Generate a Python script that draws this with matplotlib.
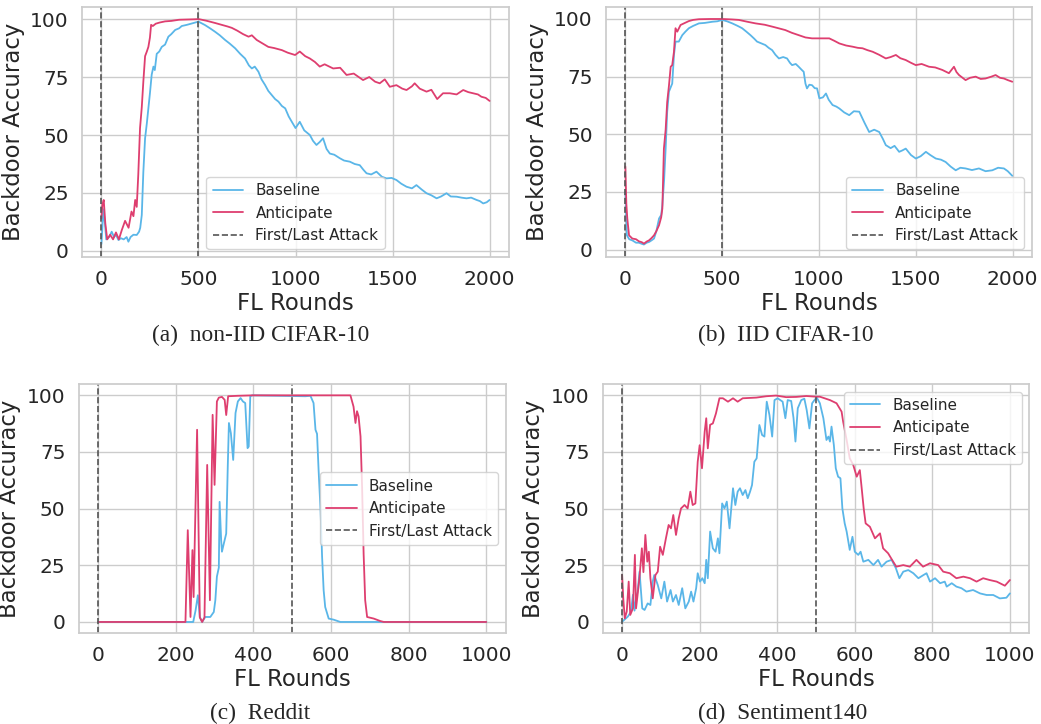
import matplotlib
matplotlib.use("Agg")
import matplotlib.pyplot as plt
import seaborn as sns

sns.set_theme(style="whitegrid")
plt.rcParams['font.family'] = ['DejaVu Sans']

# ---------------- data ----------------
# (a) non-IID CIFAR-10
a_base_x = [0, 5, 10, 18, 25, 40, 53, 65, 75, 88, 100, 115, 130, 139, 150, 165, 182, 194, 200, 208, 216, 225, 234,
            242, 250, 259, 268, 275, 285, 298, 311, 328, 345, 360, 380, 400, 414, 440, 466, 500, 534, 560, 586, 610,
            637, 660, 689, 715, 740, 760, 775, 790, 809, 825, 843, 860, 878, 895, 912, 930, 947, 965, 981, 1000,
            1022, 1045, 1074, 1090, 1108, 1125, 1142, 1160, 1177, 1200, 1228, 1250, 1280, 1305, 1331, 1350, 1366,
            1390, 1417, 1445, 1469, 1495, 1520, 1545, 1572, 1600, 1623, 1650, 1675, 1700, 1727, 1750, 1778, 1800,
            1830, 1855, 1881, 1905, 1933, 1950, 1967, 1985, 2000]
a_base_y = [3, 10, 18, 12, 5, 6, 8.3, 6, 7, 4.7, 5.5, 5, 6, 4, 6, 7, 6.9, 8.3, 10, 15.5, 34, 48.6, 55,
            61.5, 68, 76, 79.5, 78, 85, 86, 88, 89, 92.4, 93.5, 95.3, 96, 97, 97.5, 98.1, 98.9, 97.4, 96, 94.5, 93,
            91, 89.5, 87.4, 85, 83, 80, 78.7, 79.5, 77.3, 74, 71.6, 69, 67.2, 65.5, 64.4, 62.5, 61.5, 58, 55.7, 53,
            55.7, 52, 50, 47.5, 45.7, 47, 48.6, 44, 42, 41.5, 40, 39, 38.5, 37.5, 37, 35, 33.5,
            33, 34.2, 32, 31.3, 31.5, 30.6, 29, 27.7, 27, 28.4, 26.5, 24.9, 24, 22.7, 23.5, 24.9, 23.5,
            23.4, 23, 22.7, 23, 22, 21.5, 20.5, 21, 22]
a_ant_x = [0, 5, 12, 20, 30, 45, 60, 75, 90, 105, 122, 140, 155, 165, 174, 182, 190, 199, 208, 216, 225, 234, 242,
           250, 256, 265, 280, 300, 328, 360, 400, 440, 480, 500, 540, 586, 620, 650, 672, 700, 730, 758, 775, 800,
           830, 860, 890, 930, 960, 998, 1022, 1050, 1074, 1100, 1125, 1150, 1194, 1230, 1263, 1300, 1348, 1380,
           1410, 1434, 1460, 1486, 1520, 1550, 1572, 1600, 1614, 1640, 1675, 1700, 1730, 1760, 1795, 1830, 1864,
           1890, 1915, 1940, 1958, 1980, 2000]
a_ant_y = [14, 20, 22, 12, 5, 7, 5, 8, 5, 9, 13, 10, 17, 15, 22, 19, 33, 53, 62, 73, 84, 86, 88,
           92, 97.5, 97, 98, 98.5, 99, 99.2, 99.7, 99.8, 99.9, 100, 99.3, 98.3, 97.5, 96.8, 96.2, 95, 93.5, 92.4, 93, 91,
           89.5, 88, 87.5, 86.6, 85.5, 84.5, 86, 84, 83, 81.5, 79.5, 80.5, 78.7, 79, 75.9, 76.5, 73.7, 75,
           73, 72.3, 74, 70.8, 71.5, 70, 69.4, 71, 72.3, 70, 68.7, 69.5, 65.5, 68, 68, 67.5, 69.4,
           68.5, 68, 67.5, 66.5, 66, 64.7]

# (b) IID CIFAR-10
b_base_x = [0, 8, 20, 36, 55, 70, 85, 96, 110, 122, 135, 148, 160, 174, 185, 191, 200, 208, 216, 225, 242, 251, 259,
            276, 294, 310, 328, 350, 380, 410, 449, 475, 500, 525, 552, 580, 603, 625, 646, 665, 680, 700, 723, 740,
            758, 775, 793, 815, 835, 850, 861, 880, 895, 910, 921, 930, 938, 950, 964, 978, 990, 1002, 1020, 1036,
            1050, 1070, 1090, 1105, 1130, 1156, 1180, 1208, 1235, 1259, 1285, 1311, 1330, 1345, 1370, 1390, 1414,
            1430, 1448, 1475, 1500, 1525, 1552, 1575, 1603, 1630, 1654, 1680, 1706, 1730, 1757, 1790, 1826, 1860,
            1895, 1925, 1955, 1975, 1998]
b_base_y = [25, 6.2, 4.5, 4, 3, 3, 2.5, 2.2, 3, 3.3, 4, 4.8, 8, 13.5, 15, 19.2, 30, 43.8, 59.8, 68.5, 72, 84.4, 90.2,
            90.2, 93, 94.5, 96, 97, 98.1, 98.3, 98.8, 99, 99.6, 99, 98.1, 97, 96, 94.5, 93, 91.5, 90.2, 89.5, 88.7, 87.5,
            86.5, 84.5, 82.9, 83.5, 82.9, 81, 80, 80.5, 79.3, 78, 77.1, 72, 69.9, 71.5, 71.3, 70, 69.9, 65.6, 66, 67.7,
            65, 62.7, 62, 61.2, 59.5, 58.3, 60, 59.8, 55, 51, 52, 51, 48, 45.3, 44, 45, 42.4,
            43, 43.8, 41, 39.5, 40.5, 42.4, 41, 39.5, 39, 38, 36, 34.4, 35.5, 35.2, 34.5, 35.2, 34,
            34.4, 35.5, 35.2, 34, 32]
b_ant_x = [0, 5, 10, 19, 36, 55, 70, 85, 96, 110, 122, 135, 148, 160, 174, 185, 191, 199, 208, 216, 225, 234, 242,
           251, 259, 268, 285, 300, 328, 350, 380, 440, 500, 550, 586, 630, 672, 720, 758, 790, 826, 860, 895, 930,
           964, 1002, 1053, 1080, 1105, 1140, 1173, 1200, 1225, 1250, 1277, 1310, 1345, 1370, 1397, 1420, 1448,
           1475, 1500, 1530, 1568, 1600, 1637, 1671, 1697, 1710, 1723, 1757, 1780, 1809, 1835, 1860, 1890, 1912,
           1935, 1955, 1975, 1998]
b_ant_y = [36, 20, 13.5, 6.2, 4.8, 4.5, 3.6, 3.2, 2.6, 3.5, 4, 5, 6.2, 8, 10.6, 14, 17.8, 43.8, 52, 64, 71, 79.3, 80,
           85.8, 96, 94.5, 97.4, 98, 99.1, 99.6, 99.9, 100, 100, 99.8, 99.6, 98.8, 98.1, 97.5, 96.7, 96, 95.2, 94, 93, 92,
           91.6, 91.6, 91.6, 90.5, 89.4, 88.5, 88, 87.5, 87.3, 86.5, 85.8, 84.5, 82.9, 83.5, 84.4, 83, 82.2,
           81, 80, 80.5, 79.3, 79, 77.9, 76.5, 79.3, 77, 75.7, 73.5, 74.5, 75, 74, 74.2, 75, 75.7,
           74.5, 74.2, 73.5, 72.8]

# (c) Reddit
c_base_x = [0, 245, 251, 257, 262, 268, 276, 289, 298, 302, 306, 311, 313, 317, 319, 324, 330, 334, 337, 342, 348,
            354, 360, 367, 373, 379, 385, 388, 392, 397, 534, 547, 555, 560, 564, 568, 573, 577, 581, 585, 594, 607,
            624, 1000]
c_base_y = [0, 0, 5, 11.8, 2.2, 0, 2.2, 2.2, 4.4, 9.6, 20, 24, 53, 36, 31, 34.7, 39, 68.6, 87.8, 83.3, 71.5,
            92.2, 97.3, 98.8, 97.3, 96.6, 76.7, 77.4, 99.6, 100, 99.6, 99.8, 96.6, 84.8, 83, 67, 49.4, 28.8, 14, 6.6,
            1.5, 1, 0, 0]
c_ant_x = [0, 225, 231, 238, 243, 246, 255, 262, 268, 274, 281, 288, 295, 300, 306, 311, 319, 326, 330, 335, 360,
           400, 500, 600, 650, 658, 663, 667, 671, 676, 680, 684, 688, 693, 710, 727, 736, 1000]
c_ant_y = [0, 0, 40.5, 2.2, 31.7, 11, 84.8, 2, 0, 2, 69.3, 9.6, 91.4, 60.5, 97.3, 99, 99.3, 98, 91.3, 99.6, 99.8,
           100, 100, 100, 100, 95, 87.8, 93, 90.7, 81.9, 59.7, 30, 9.6, 2.2, 1.5, 0.4, 0, 0]

# (d) Sentiment140
d_base_x = [0, 6, 15, 23, 28, 32, 36, 40, 45, 52, 58, 66, 73, 79, 83, 92, 101, 109, 116, 125, 131, 139, 146, 155,
            163, 172, 178, 184, 191, 195, 201, 207, 213, 217, 221, 227, 234, 241, 247, 251, 258, 264, 270, 277, 286,
            292, 298, 304, 311, 318, 324, 330, 335, 341, 347, 354, 361, 367, 373, 380, 387, 393, 401, 414, 421, 427,
            436, 442, 447, 453, 462, 470, 476, 483, 490, 496, 502, 510, 519, 527, 532, 536, 540, 546, 551, 557, 563,
            568, 574, 579, 587, 594, 600, 609, 615, 622, 635, 648, 660, 669, 682, 695, 706, 715, 725, 738, 751, 764,
            777, 785, 794, 807, 820, 832, 837, 850, 862, 875, 888, 905, 923, 940, 957, 974, 991, 1000]
d_base_y = [0.1, 1, 2.4, 4.6, 12, 5, 10.4, 13.4, 22.2, 6, 5.3, 8.2, 7.5, 17.8, 20.7, 16.3, 10.4, 17.8, 9, 14.1, 9,
            11.9, 7.5, 14.9, 6, 9, 13.4, 9, 14.9, 21.5, 17.8, 19.3, 17.1, 27.4, 19.3, 39.9, 32.5, 31, 36.9, 30.3, 52.3,
            50.1, 53.1, 41.3, 59, 51.6, 57.5, 59, 56, 58.2, 54.6, 57.5, 60.4, 70.7, 72.2, 86.9, 82.5, 81.8, 97.2, 91.3,
            81.8, 97.9, 98.7, 97.2, 89.9, 97.9, 97.5, 90, 79.6, 94.3, 97.9, 98.5, 93.5, 85.4, 96.5, 97.9, 99, 96.5,
            89.9, 80.3, 81.8, 79.6, 86.2, 78.1, 67.8, 64.1, 63.4, 50.1, 43.5, 39.9, 31.8, 37.6, 31, 29.6, 31, 26.6,
            27.4, 25.1, 27.4, 24.4, 26.6, 27.4, 23.7, 19.3, 22.2, 22.9, 21.5, 19.3, 20.7, 21.5, 17.8, 19.3, 17.1, 17.8,
            15.6, 17.1, 15.6, 14.9, 13.4, 14.1, 12.6, 11.9, 11.9, 10.4, 10.7, 12.6]
d_ant_x = [0, 3, 7, 12, 17, 21, 28, 33, 36, 40, 45, 51, 55, 60, 65, 69, 73, 79, 86, 92, 98, 105, 113, 120, 126, 132,
           139, 146, 152, 161, 169, 176, 182, 189, 195, 200, 206, 213, 217, 221, 227, 234, 242, 251, 260, 273, 286,
           298, 311, 346, 372, 397, 423, 449, 475, 500, 510, 536, 553, 566, 570, 579, 587, 596, 605, 613, 617, 623,
           628, 639, 652, 665, 673, 686, 699, 707, 725, 742, 759, 776, 794, 815, 828, 845, 862, 880, 897, 914, 931,
           948, 966, 987, 1000]
d_ant_y = [20.7, 10.4, 1.6, 4.6, 17.8, 3.1, 6, 29.6, 6, 12, 20, 32.5, 22, 38.4, 26.6, 31, 19.3, 10.4, 20.7, 22.2,
           33.2, 29.6, 36.9, 42.8, 41.3, 47.2, 38.4, 45.7, 50.1, 51.6, 50.1, 57.5, 51.6, 52.3, 70.7, 78, 67.8, 84,
           89.9, 76.6, 87, 87.6, 92, 98.7, 98.7, 97.2, 98.7, 97.2, 98.7, 99, 99.6, 99.9, 99.2, 99.3, 99.7, 99.4, 99.4,
           97.9, 96.5, 92.8, 88.4, 80.3, 72.2, 69.3, 64.1, 67, 60.4, 50.1, 43.5, 42, 36.9, 39.1, 32.5, 30.3, 26.6,
           24.4, 25.1, 24.4, 27.4, 24.4, 25.9, 25.1, 22.2, 21.5, 19.3, 20, 19.3, 17.8, 19.3, 18.5, 17.8, 16, 18.5]

captions = ["(a)  non-IID CIFAR-10", "(b)  IID CIFAR-10", "(c)  Reddit", "(d)  Sentiment140"]
attack_rounds = [0, 500]
cifar_ticks = [0, 500, 1000, 1500, 2000]
nlp_ticks = [0, 200, 400, 600, 800, 1000]
y_ticks = [0, 25, 50, 75, 100]

BLUE = "#5AB6E8"
RED = "#DE3E6F"

W, H = 1041, 724
fig = plt.figure(figsize=(W / 100, H / 100), dpi=100)


def box(l, r, t, b):
    return [l / W, 1 - b / H, (r - l) / W, (b - t) / H]


panels = [
    dict(pos=box(82, 509, 7, 257), bx=a_base_x, by=a_base_y, ax_=a_ant_x, ay=a_ant_y,
         xlim=(-100, 2100), ylim=(-2.6, 105.2), xt=cifar_ticks, loc="lower center", cap=(261, 335)),
    dict(pos=box(606, 1032, 7, 257), bx=b_base_x, by=b_base_y, ax_=b_ant_x, ay=b_ant_y,
         xlim=(-100, 2100), ylim=(-3.2, 105.2), xt=cifar_ticks, loc="lower right", cap=(786, 335)),
    dict(pos=box(78.7, 505.7, 384, 633.3), bx=c_base_x, by=c_base_y, ax_=c_ant_x, ay=c_ant_y,
         xlim=(-50, 1050), ylim=(-5, 105), xt=nlp_ticks, loc="center right", cap=(260, 713)),
    dict(pos=box(602.7, 1029.3, 384, 633.3), bx=d_base_x, by=d_base_y, ax_=d_ant_x, ay=d_ant_y,
         xlim=(-50, 1050), ylim=(-5, 105), xt=nlp_ticks, loc="upper right", cap=(783, 713)),
]

for p, cap in zip(panels, captions):
    ax = fig.add_axes(p["pos"])
    ax.plot(p["bx"], p["by"], color=BLUE, lw=1.3, label="Baseline")
    ax.plot(p["ax_"], p["ay"], color=RED, lw=1.3, label="Anticipate")
    for i, r in enumerate(attack_rounds):
        ax.axvline(r, color="#555555", ls="--", lw=1.2,
                   label="First/Last Attack" if i == 0 else None)
    ax.set_xlim(*p["xlim"])
    ax.set_ylim(*p["ylim"])
    ax.set_xticks(p["xt"])
    ax.set_yticks(y_ticks)
    ax.tick_params(labelsize=14.5, colors="#262626")
    ax.set_xlabel("FL Rounds", fontsize=16.4, color="#262626", labelpad=2)
    ax.set_ylabel("Backdoor Accuracy", fontsize=16.4, color="#262626")
    leg = ax.legend(loc=p["loc"], fontsize=11)
    for t in leg.get_texts():
        t.set_color("#262626")
    cx, cy = p["cap"]
    fig.text(cx / W, 1 - cy / H, cap, ha="center", va="center",
             fontsize=16.8, family=["Liberation Serif"])

fig.savefig("out.png", dpi=100)
